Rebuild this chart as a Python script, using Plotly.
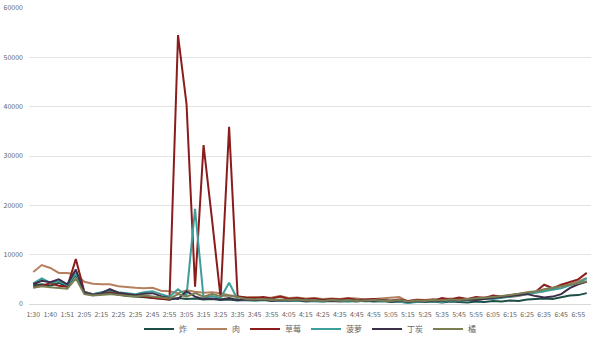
import plotly.graph_objects as go

times = [
    "1:30", "1:35", "1:40", "1:45", "1:51", "1:58", "2:05", "2:10", "2:15", "2:20",
    "2:25", "2:30", "2:35", "2:40", "2:45", "2:50", "2:55", "3:00", "3:05", "3:10",
    "3:15", "3:20", "3:25", "3:30", "3:35", "3:40", "3:45", "3:50", "3:55", "4:00",
    "4:05", "4:10", "4:15", "4:20", "4:25", "4:30", "4:35", "4:40", "4:45", "4:50",
    "4:55", "5:00", "5:05", "5:10", "5:15", "5:20", "5:25", "5:30", "5:35", "5:40",
    "5:45", "5:50", "5:55", "6:00", "6:05", "6:10", "6:15", "6:20", "6:25", "6:30",
    "6:35", "6:40", "6:45", "6:50", "6:55", "7:00",
]

zha = [3800, 4000, 3700, 4300, 3500, 6000,
       2200, 1800, 2100, 2300, 1900, 1600, 1500, 1400, 1300, 1100,
       900, 1200, 1000, 1100, 900, 1000, 800, 900, 700, 800,
       700, 800, 600, 700, 600, 700, 500, 600, 500, 600,
       500, 600, 500, 700, 500, 600, 400, 500, 300, 500,
       400, 500, 300, 500, 400, 300, 500, 400, 600, 500,
       700, 600, 900, 1000, 1100, 1000, 1300, 1700, 1800, 2200]

rou = [6500, 7900, 7300, 6300, 6300, 6000,
       4500, 4100, 4000, 4000, 3600, 3400, 3300, 3200, 3300, 2700,
       2600, 2200, 2800, 2500, 2300, 2400, 2200, 1800, 1500, 1300,
       1400, 1200, 1300, 1600, 1200, 1300, 1100, 1200, 1000, 1100,
       1000, 1200, 1100, 900, 1000, 1100, 1200, 1400, 500, 900,
       800, 1000, 900, 1100, 1000, 800, 1200, 1300, 1200, 1500,
       1400, 1600, 2000, 2300, 2600, 3200, 3600, 4000, 4600, 5300]

caomei = [3400, 3700, 4200, 3700, 3500, 9100,
          2500, 2000, 2300, 2600, 2200, 1800, 1600, 1500, 1200, 1000,
          900, 54500, 40500, 3500, 32200, 17000, 1300, 35900, 1500, 1300,
          1200, 1400, 1100, 1500, 1000, 1200, 900, 1100, 800, 1000,
          900, 1100, 800, 900, 1000, 800, 700, 900, 600, 800,
          700, 600, 1200, 900, 1300, 1000, 1400, 1200, 1700, 1500,
          1800, 2000, 2300, 2500, 3900, 3200, 3900, 4400, 5000, 6300]

boluo = [4200, 5200, 4300, 4600, 3800, 6200,
         2400, 2000, 2400, 2800, 2400, 2200, 2000, 2400, 2600, 2000,
         1500, 3000, 1700, 19300, 1200, 1600, 1200, 4300, 900, 800,
         700, 800, 900, 700, 600, 800, 700, 600, 500, 700,
         600, 500, 700, 500, 600, 500, 700, 500, 200, 400,
         500, 600, 400, 700, 600, 900, 800, 1100, 1000, 1300,
         1500, 1700, 2000, 2300, 2600, 3000, 3200, 3800, 4300, 5200]

dingtan = [4000, 4700, 4400, 5000, 4000, 7000,
           2300, 1900, 2200, 3000, 2300, 2000, 1800, 2100, 2200, 1600,
           1200, 1000, 2600, 1500, 1000, 1100, 900, 1200, 800, 900,
           800, 900, 700, 800, 700, 900, 600, 800, 700, 600,
           700, 800, 600, 700, 600, 800, 500, 700, 400, 600,
           500, 700, 600, 800, 700, 900, 800, 1000, 1100, 1300,
           1600, 1800, 2000, 1600, 1300, 1500, 2000, 3200, 4000, 4500]

ju = [3300, 3600, 3400, 3200, 3100, 5200,
      2000, 1700, 1800, 2000, 1800, 1600, 1500, 1700, 1500, 1200,
      1100, 2000, 1500, 2200, 1500, 2000, 1600, 1700, 1300, 1000,
      900, 1000, 800, 900, 800, 900, 700, 800, 600, 800,
      700, 800, 600, 700, 800, 700, 600, 800, 500, 700,
      600, 800, 700, 900, 800, 1000, 1100, 1300, 1400, 1600,
      1800, 2100, 2400, 2600, 3000, 3300, 3500, 3800, 4200, 4600]

series_names = ["炸", "肉", "草莓", "菠萝", "丁炭", "橘"]
series_values = [zha, rou, caomei, boluo, dingtan, ju]
colors = ["#1d4f46", "#b5805f", "#8b1c1c", "#3e9e9b", "#3c2f4a", "#7b7d52"]

fig = go.Figure()
for name, vals, col in zip(series_names, series_values, colors):
    fig.add_trace(go.Scatter(x=times, y=vals, mode="lines", name=name,
                             line=dict(color=col, width=2)))

tick_vals = times[0:65:2]
tick_text = ["1:30", "1:40", "1:51", "2:05", "2:15", "2:25", "2:35", "2:45", "2:55",
             "3:05", "3:15", "3:25", "3:35", "3:45", "3:55", "4:05", "4:15", "4:25",
             "4:35", "4:45", "4:55", "5:05", "5:15", "5:25", "5:35", "5:45", "5:55",
             "6:05", "6:15", "6:25", "6:35", "6:45", "6:55"]

fig.update_layout(
    width=600, height=340,
    margin=dict(l=29, r=9, t=8, b=36, autoexpand=False),
    paper_bgcolor="white", plot_bgcolor="white",
    font=dict(family="Noto Sans CJK SC, Noto Sans, sans-serif", color="#666666", size=7),
    xaxis=dict(type="category", range=[-0.5, len(times) - 0.5],
               tickmode="array", tickvals=tick_vals, ticktext=tick_text,
               tickangle=0, showgrid=False, showline=True, linecolor="#d9d9d9",
               ticks="", ticklabelstandoff=4, automargin=False,
               tickfont=dict(size=7, color="#666666")),
    yaxis=dict(range=[0, 60000], dtick=10000, showgrid=True, gridcolor="#e3e3e3",
               gridwidth=1, zeroline=False, ticks="", tickformat="d",
               ticklabelstandoff=5, automargin=False,
               tickfont=dict(size=7, color="#666666")),
    legend=dict(orientation="h", x=0.5, xanchor="center",
                yref="container", y=11 / 340, yanchor="middle",
                font=dict(size=8, color="#666666"), itemwidth=30,
                tracegroupgap=0, bgcolor="rgba(0,0,0,0)"),
    showlegend=True,
)

fig.write_html("out.html")
